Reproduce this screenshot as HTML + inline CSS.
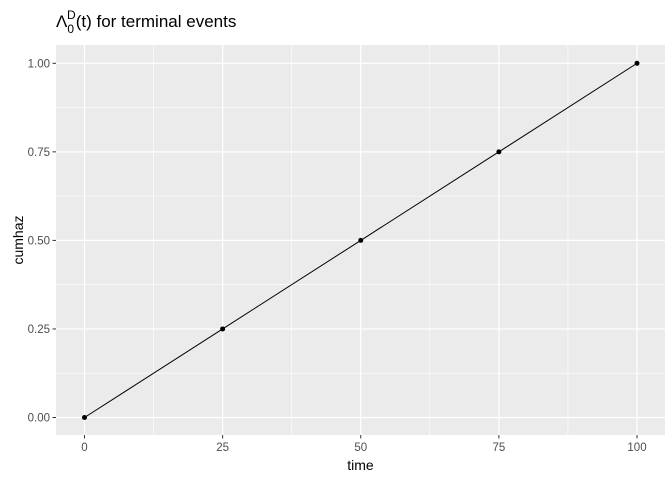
<!DOCTYPE html>
<html><head><meta charset="utf-8"><style>
body{margin:0;background:#fff;font-family:"Liberation Sans",sans-serif}
</style></head><body>
<svg width="672" height="480" xmlns="http://www.w3.org/2000/svg" id="svg">
<text x="56" y="27" font-size="17" fill="#000">Λ<tspan font-size="12" dy="6">0</tspan><tspan font-size="12" dx="-7" dy="-14">D</tspan><tspan dy="8">(t) for terminal events</tspan></text>
<rect x="56" y="45" width="609" height="390" fill="#ebebeb"/>
<g id="grid"></g><g id="marks"></g><g id="axes"></g>
<text x="360.5" y="470" font-size="14" text-anchor="middle">time</text>
<text transform="translate(23,240) rotate(-90)" font-size="14" text-anchor="middle">cumhaz</text>
</svg>
<script>
const times=[0,25,50,75,100];
const cumhaz=[0,0.25,0.5,0.75,1];
const xTicks=[0,25,50,75,100];
const yTicks=[0,0.25,0.5,0.75,1];
const yLabels=["0.00","0.25","0.50","0.75","1.00"];
const NS="http://www.w3.org/2000/svg";
const X=v=>84.5+v*5.525, Y=v=>417.5-v*354.2;
function mk(p,t,a){const e=document.createElementNS(NS,t);for(const k in a)e.setAttribute(k,a[k]);document.getElementById(p).appendChild(e);return e;}
for(let i=0;i<xTicks.length-1;i++){const m=(xTicks[i]+xTicks[i+1])/2;
 const g=mk('grid','line',{x1:X(m),x2:X(m),y1:45,y2:435,stroke:'#fff','stroke-width':0.6});
 }
for(let i=0;i<yTicks.length-1;i++){const m=(yTicks[i]+yTicks[i+1])/2;
 const g=mk('grid','line',{x1:56,x2:665,y1:Y(m),y2:Y(m),stroke:'#fff','stroke-width':0.6});
 }
xTicks.forEach(v=>{const g=mk('grid','line',{x1:X(v),x2:X(v),y1:45,y2:435,stroke:'#fff','stroke-width':1.2});
 
 const t=mk('axes','line',{x1:X(v),x2:X(v),y1:435,y2:438.5,stroke:'#333','stroke-width':1});
 
 const l=mk('axes','text',{x:X(v),y:451,'font-size':11.5,fill:'#4d4d4d','text-anchor':'middle'});l.textContent=v;
 });
yTicks.forEach((v,i)=>{const g=mk('grid','line',{x1:56,x2:665,y1:Y(v),y2:Y(v),stroke:'#fff','stroke-width':1.2});
 
 const t=mk('axes','line',{x1:52.5,x2:56,y1:Y(v),y2:Y(v),stroke:'#333','stroke-width':1});
 
 const l=mk('axes','text',{x:50,y:Y(v)+4,'font-size':11.5,fill:'#4d4d4d','text-anchor':'end'});l.textContent=yLabels[i];
 });
const ln=mk('marks','polyline',{points:times.map((t,i)=>X(t)+','+Y(cumhaz[i])).join(' '),fill:'none',stroke:'#000','stroke-width':1});

times.forEach((t,i)=>{const c=mk('marks','circle',{cx:X(t),cy:Y(cumhaz[i]),r:2.5,fill:'#000'});
 });
</script>
</body></html>
